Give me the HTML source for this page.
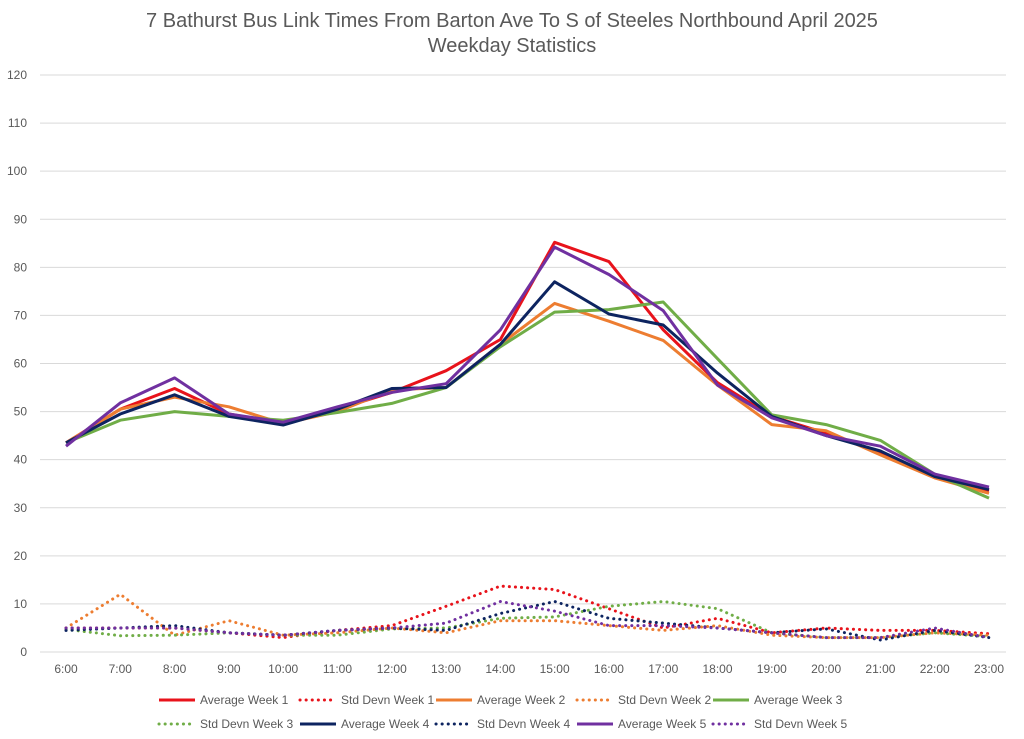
<!DOCTYPE html>
<html><head><meta charset="utf-8"><style>
body{margin:0;background:#fff;font-family:"Liberation Sans",sans-serif}
svg text{font-family:"Liberation Sans",sans-serif;fill:#595959}
</style></head><body>
<svg id="c" width="1024" height="734" xmlns="http://www.w3.org/2000/svg">
<text x="512" y="27" text-anchor="middle" font-size="20">7 Bathurst Bus Link Times From Barton Ave To S of Steeles Northbound April 2025</text>
<text x="512" y="52" text-anchor="middle" font-size="20">Weekday Statistics</text>
<g id="grid"></g><g id="series"></g><g id="legend"></g>
</svg>
<script>
const categories=["6:00","7:00","8:00","9:00","10:00","11:00","12:00","13:00","14:00","15:00","16:00","17:00","18:00","19:00","20:00","21:00","22:00","23:00"];
const yTicks=[0,10,20,30,40,50,60,70,80,90,100,110,120];
const avgW1=[43.5,50.5,54.8,49.5,47.5,50.5,54,58.5,65,85.2,81.2,67,56,49,45.5,41.5,36.5,33.5];
const avgW2=[43.5,50.5,53,51,47.5,50,54.5,55,64,72.5,68.8,64.8,55.5,47.3,46,41,36.2,33];
const avgW3=[43.5,48.2,50,49,48.2,49.8,51.7,55,63.5,70.7,71.2,72.8,61,49.3,47.3,44,37,32];
const avgW4=[43.5,49.5,53.5,49,47.2,50.5,54.8,55,64,77,70.3,68,58,49,45,41.8,36.5,33.8];
const avgW5=[42.8,51.8,57,49.5,47.8,51,54,55.8,67,84.2,78.5,71,55.5,48.7,45,42.8,37,34.3];
const sdW1=[5,5,5,4,3,4.5,5.5,9.5,13.7,13,9,5,7,4,5,4.5,4.5,3.8];
const sdW2=[5,12,3.5,6.5,3.5,4,5,4,6.5,6.5,5.5,4.5,5.5,3.5,3,3,4,3.5];
const sdW3=[4.7,3.4,3.5,4,3.5,3.5,4.8,5,7,7.3,9.5,10.5,9,4,3,3,4,3.2];
const sdW4=[4.5,5,5.5,4,3.5,4.5,5,4.5,8,10.5,7,6,5,4,4.8,2.5,4.5,3];
const sdW5=[5,5,5,4,3.5,4.5,5,6,10.5,8.5,5.5,5.5,5,4,3,3,5,3];
const NS="http://www.w3.org/2000/svg";
const X0=66,X1=989,Y0=652,Y1=75;
const xs=i=>X0+i*(X1-X0)/(categories.length-1);
const ys=v=>Y0-v*(Y0-Y1)/120;
function mk(t,a,p){const e=document.createElementNS(NS,t);for(const k in a)e.setAttribute(k,a[k]);p.appendChild(e);return e;}
const grid=document.getElementById('grid');
yTicks.forEach(v=>{
 const l=mk('line',{x1:40,x2:1006,y1:ys(v),y2:ys(v),stroke:'#d9d9d9','stroke-width':1},grid);
 
 
 const t=mk('text',{x:27,y:ys(v)+4,'text-anchor':'end','font-size':12},grid);t.textContent=v;
 
 
});
categories.forEach((c,i)=>{
 const t=mk('text',{x:xs(i),y:673,'text-anchor':'middle','font-size':12},grid);t.textContent=c;
 
 
});
function straight(d){return d.map((v,i)=>(i?'L':'M')+xs(i).toFixed(1)+','+ys(v).toFixed(1)).join('');}
const cols=['#e8131b','#ed7d31','#70ad47','#0d2460','#7030a0'];
const avgs=[avgW1,avgW2,avgW3,avgW4,avgW5],sds=[sdW1,sdW2,sdW3,sdW4,sdW5];
const ser=document.getElementById('series');
sds.forEach((d,k)=>{const p=mk('path',{d:straight(d),fill:'none',stroke:cols[k],'stroke-width':3,'stroke-dasharray':'0.1 6','stroke-linecap':'round','stroke-linejoin':'round'},ser);
 
 });
avgs.forEach((d,k)=>{const p=mk('path',{d:straight(d),fill:'none',stroke:cols[k],'stroke-width':3,'stroke-linejoin':'round'},ser);
 
 });
const leg=document.getElementById('legend');
const items=[["Average Week 1",0,0],["Std Devn Week 1",0,1],["Average Week 2",1,0],["Std Devn Week 2",1,1],["Average Week 3",2,0],["Std Devn Week 3",2,1],["Average Week 4",3,0],["Std Devn Week 4",3,1],["Average Week 5",4,0],["Std Devn Week 5",4,1]];
const lx=[159,300,436,577,713,159,300,436,577,713];
items.forEach((it,i)=>{const x=lx[i],y=i<5?700:724;
 const g=mk('g',{},leg);
 
 
 mk('line',it[2]?{x1:x,x2:x+36,y1:y,y2:y,stroke:cols[it[1]],'stroke-width':3,'stroke-dasharray':'0.1 6','stroke-linecap':'round'}:{x1:x,x2:x+36,y1:y,y2:y,stroke:cols[it[1]],'stroke-width':3},g);
 const t=mk('text',{x:x+41,y:y+4,'font-size':12},g);t.textContent=it[0];});
</script>
</body></html>
